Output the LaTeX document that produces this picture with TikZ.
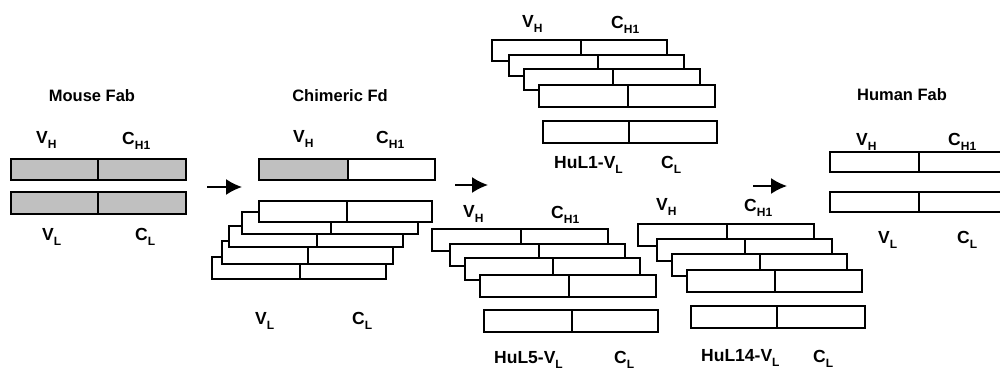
\documentclass[tikz,border=0pt]{standalone}
\usepackage{fontspec}
\setmainfont{Liberation Sans}
\usetikzlibrary{arrows.meta}
\definecolor{fabgray}{HTML}{C0C0C0}
\newcommand{\sbx}[1]{\raisebox{-5pt}{\fontsize{12}{12}\selectfont #1}}
\newcommand{\fbar}[7]{%
  \fill[#6] (#1,#2) rectangle (#3,#5);
  \fill[#7] (#3,#2) rectangle (#4,#5);
  \draw[barline] (#1,#2) rectangle (#4,#5) (#3,#2) -- (#3,#5);}
\tikzset{
  barline/.style={line width=1.7pt, line join=miter},
  lab/.style={anchor=base west, inner sep=0pt, font=\bfseries\fontsize{17.5}{18}\selectfont},
  ttl/.style={anchor=base, inner sep=0pt, font=\bfseries\fontsize{16.5}{18}\selectfont},
  arr/.style={line width=1.7pt, -{Latex[length=16pt,width=16pt]}}
}
\begin{document}
\begin{tikzpicture}[x=1pt,y=-1pt]
\useasboundingbox (0,0) rectangle (1000,369);
\begin{scope}
\clip (0,0) rectangle (1000,369);
% Mouse Fab
\node[ttl] (t1) at (92,101) {Mouse Fab};
\node[lab] (m-vh) at (36,143) {V\sbx{H}};
\node[lab] (m-ch) at (122,144) {C\sbx{H1}};
\fbar{11}{159}{98}{186}{180}{fabgray}{fabgray}
\fbar{11}{192}{98}{186}{214}{fabgray}{fabgray}
\node[lab] (m-vl) at (42,240) {V\sbx{L}};
\node[lab] (m-cl) at (135,240) {C\sbx{L}};
% arrow 1
\coordinate (a1s) at (207,187);
\coordinate (a1e) at (242,187);
\draw[arr] (a1s) -- (a1e);
% Chimeric Fd
\node[ttl] (t2) at (340,101) {Chimeric Fd};
\node[lab] (c-vh) at (293,142) {V\sbx{H}};
\node[lab] (c-ch) at (376,143) {C\sbx{H1}};
\fbar{259}{159}{348}{435}{180}{fabgray}{white}
\fbar{212}{257}{300}{386}{279}{white}{white}
\fbar{222}{241}{308}{393}{264}{white}{white}
\fbar{229}{226}{317}{403}{247}{white}{white}
\fbar{242}{212}{331}{418}{234}{white}{white}
\fbar{259}{201}{347}{432}{222}{white}{white}
\node[lab] (c-vl) at (255,324) {V\sbx{L}};
\node[lab] (c-cl) at (352,324) {C\sbx{L}};
% HuL1 group
\node[lab] (h1-vh) at (522,28) {V\sbx{H}};
\node[lab] (h1-ch) at (611,29) {C\sbx{H1}};
\fbar{492}{40}{581}{667}{61}{white}{white}
\fbar{509}{55}{598}{684}{76}{white}{white}
\fbar{524}{69}{613}{700}{90}{white}{white}
\fbar{539}{85}{628}{715}{107}{white}{white}
\fbar{543}{121}{629}{717}{143}{white}{white}
\node[lab] (h1-vl) at (554,168) {HuL1-V\sbx{L}};
\node[lab] (h1-cl) at (661,168) {C\sbx{L}};
% arrow 2
\coordinate (a2s) at (455,185);
\coordinate (a2e) at (488,185);
\draw[arr] (a2s) -- (a2e);
% HuL5 group
\node[lab] (h5-vh) at (463,217) {V\sbx{H}};
\node[lab] (h5-ch) at (551,218) {C\sbx{H1}};
\fbar{432}{229}{521}{608}{251}{white}{white}
\fbar{450}{244}{539}{625}{266}{white}{white}
\fbar{465}{258}{553}{640}{280}{white}{white}
\fbar{480}{275}{569}{656}{297}{white}{white}
\fbar{484}{310}{572}{658}{332}{white}{white}
\node[lab] (h5-vl) at (494,363) {HuL5-V\sbx{L}};
\node[lab] (h5-cl) at (614,363) {C\sbx{L}};
% arrow 3
\coordinate (a3s) at (753,186);
\coordinate (a3e) at (787,186);
\draw[arr] (a3s) -- (a3e);
% HuL14 group
\node[lab] (h14-vh) at (656,210) {V\sbx{H}};
\node[lab] (h14-ch) at (744,211) {C\sbx{H1}};
\fbar{638}{224}{727}{814}{246}{white}{white}
\fbar{657}{239}{745}{832}{261}{white}{white}
\fbar{672}{254}{760}{847}{276}{white}{white}
\fbar{687}{270}{775}{862}{292}{white}{white}
\fbar{691}{306}{777}{865}{328}{white}{white}
\node[lab] (h14-vl) at (701,361) {HuL14-V\sbx{L}};
\node[lab] (h14-cl) at (813,362) {C\sbx{L}};
% Human Fab
\node[ttl] (t3) at (902,100) {Human Fab};
\node[lab] (hu-vh) at (856,145) {V\sbx{H}};
\node[lab] (hu-ch) at (948,145) {C\sbx{H1}};
\fbar{830}{152}{919}{1006}{172}{white}{white}
\fbar{830}{192}{919}{1006}{212}{white}{white}
\node[lab] (hu-vl) at (878,243) {V\sbx{L}};
\node[lab] (hu-cl) at (957,243) {C\sbx{L}};
\end{scope}
\end{tikzpicture}
\end{document}
